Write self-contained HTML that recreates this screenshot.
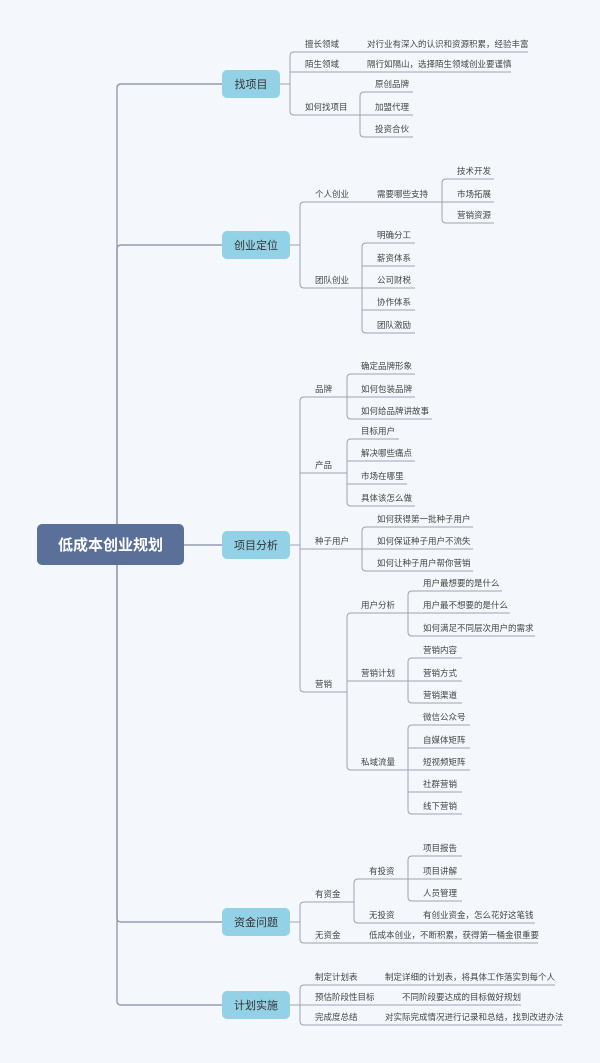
<!DOCTYPE html>
<html><head><meta charset="utf-8"><style>
html,body{margin:0;padding:0;background:#f4f8fc;}
svg{display:block;}
text{font-family:"Liberation Sans","Noto Sans CJK SC",sans-serif;fill:#444;font-size:8.5px;}
.m{font-size:11px;fill:#333;text-anchor:middle;}
.r{font-size:15px;font-weight:bold;fill:#fff;text-anchor:middle;}
path{fill:none;stroke:#9ba2b4;stroke-width:1;}
.t{stroke:#949bb0;stroke-width:1.4;}
</style></head><body>
<svg width="600" height="1063" viewBox="0 0 600 1063" xmlns="http://www.w3.org/2000/svg">
<rect width="600" height="1063" fill="#f4f8fc"/>
<!-- trunk -->
<path class="t" d="M117,544 L117,88 Q117,84 121,84 L222,84"/>
<path class="t" d="M117,544 L117,249 Q117,245 121,245 L222,245"/>
<path class="t" d="M184,545 L222,545"/>
<path class="t" d="M117,544 L117,918 Q117,922 121,922 L222,922"/>
<path class="t" d="M117,544 L117,1001 Q117,1005 121,1005 L222,1005"/>

<!-- 找项目 -->
<path d="M280,84 L290,84"/>
<path d="M290,84 L290,56 Q290,52 294,52 L528,52"/>
<path d="M290,72 L511,72"/>
<path d="M290,84 L290,111 Q290,115 294,115 L360,115"/>
<path d="M360,115 L360,96 Q360,92 364,92 L413,92"/>
<path d="M360,115 L413,115"/>
<path d="M360,115 L360,133 Q360,137 364,137 L413,137"/>
<!-- 创业定位 -->
<path d="M290,245 L300,245"/>
<path d="M300,245 L300,206 Q300,202 304,202 L442,202"/>
<path d="M300,245 L300,284 Q300,288 304,288 L362,288"/>
<path d="M442,202 L442,183 Q442,179 446,179 L494,179"/>
<path d="M442,202 L494,202"/>
<path d="M442,202 L442,219 Q442,223 446,223 L494,223"/>
<path d="M362,288 L362,247 Q362,243 366,243 L415,243"/>
<path d="M362,266 L415,266 M362,288 L415,288 M362,310 L415,310"/>
<path d="M362,288 L362,329 Q362,333 366,333 L415,333"/>
<!-- 项目分析 -->
<path d="M290,545 L300,545"/>
<path d="M300,545 L300,401 Q300,397 304,397 L347,397"/>
<path d="M300,473 L347,473 M300,549 L362,549"/>
<path d="M300,545 L300,688 Q300,692 304,692 L347,692"/>
<path d="M347,397 L347,378 Q347,374 351,374 L415,374"/>
<path d="M347,397 L415,397"/>
<path d="M347,397 L347,415 Q347,419 351,419 L432,419"/>
<path d="M347,473 L347,443 Q347,439 351,439 L399,439"/>
<path d="M347,461 L415,461 M347,484 L407,484"/>
<path d="M347,473 L347,502 Q347,506 351,506 L415,506"/>
<path d="M362,549 L362,531 Q362,527 366,527 L473,527"/>
<path d="M362,549 L473,549"/>
<path d="M362,549 L362,567 Q362,571 366,571 L473,571"/>
<path d="M347,692 L347,617 Q347,613 351,613 L408,613"/>
<path d="M347,681 L408,681"/>
<path d="M347,692 L347,766 Q347,770 351,770 L408,770"/>
<path d="M408,613 L408,595 Q408,591 412,591 L502,591"/>
<path d="M408,613 L510,613"/>
<path d="M408,613 L408,632 Q408,636 412,636 L535,636"/>
<path d="M408,681 L408,662 Q408,658 412,658 L462,658"/>
<path d="M408,681 L462,681"/>
<path d="M408,681 L408,699 Q408,703 412,703 L462,703"/>
<path d="M408,770 L408,729 Q408,725 412,725 L470,725"/>
<path d="M408,748 L470,748 M408,770 L470,770 M408,792 L462,792"/>
<path d="M408,770 L408,810 Q408,814 412,814 L462,814"/>
<!-- 资金问题 -->
<path d="M290,922 L300,922"/>
<path d="M300,922 L300,906 Q300,902 304,902 L354,902"/>
<path d="M300,922 L300,939 Q300,943 304,943 L538,943"/>
<path d="M354,902 L354,883 Q354,879 358,879 L408,879"/>
<path d="M354,902 L354,919 Q354,923 358,923 L535,923"/>
<path d="M408,879 L408,860 Q408,856 412,856 L462,856"/>
<path d="M408,879 L462,879"/>
<path d="M408,879 L408,897 Q408,901 412,901 L462,901"/>
<!-- 计划实施 -->
<path d="M290,1005 L300,1005"/>
<path d="M300,1005 L300,989 Q300,985 304,985 L555,985"/>
<path d="M300,1005 L521,1005"/>
<path d="M300,1005 L300,1021 Q300,1025 304,1025 L562,1025"/>

<!-- nodes -->
<rect x="37" y="524" width="147" height="41" rx="5" fill="#5a7099"/>
<text class="r" x="110.5" y="550">低成本创业规划</text>
<rect x="222" y="70" width="58" height="28" rx="5" fill="#93d1e6"/>
<text class="m" x="251" y="88">找项目</text>
<rect x="222" y="231" width="68" height="28" rx="5" fill="#93d1e6"/>
<text class="m" x="256" y="249">创业定位</text>
<rect x="222" y="531" width="68" height="28" rx="5" fill="#93d1e6"/>
<text class="m" x="256" y="549">项目分析</text>
<rect x="222" y="908" width="68" height="28" rx="5" fill="#93d1e6"/>
<text class="m" x="256" y="926">资金问题</text>
<rect x="222" y="991" width="68" height="28" rx="5" fill="#93d1e6"/>
<text class="m" x="256" y="1009">计划实施</text>

<!-- labels -->
<text x="305" y="47">擅长领域</text><text x="367" y="47">对行业有深入的认识和资源积累，经验丰富</text>
<text x="305" y="67">陌生领域</text><text x="367" y="67">隔行如隔山，选择陌生领域创业要谨慎</text>
<text x="305" y="110">如何找项目</text>
<text x="375" y="87">原创品牌</text><text x="375" y="110">加盟代理</text><text x="375" y="132">投资合伙</text>

<text x="315" y="197">个人创业</text><text x="377" y="197">需要哪些支持</text>
<text x="457" y="174">技术开发</text><text x="457" y="197">市场拓展</text><text x="457" y="218">营销资源</text>
<text x="315" y="283">团队创业</text>
<text x="377" y="238">明确分工</text><text x="377" y="261">薪资体系</text><text x="377" y="283">公司财税</text><text x="377" y="305">协作体系</text><text x="377" y="328">团队激励</text>

<text x="315" y="392">品牌</text>
<text x="361" y="369">确定品牌形象</text><text x="361" y="392">如何包装品牌</text><text x="361" y="414">如何给品牌讲故事</text>
<text x="315" y="468">产品</text>
<text x="361" y="434">目标用户</text><text x="361" y="456">解决哪些痛点</text><text x="361" y="479">市场在哪里</text><text x="361" y="501">具体该怎么做</text>
<text x="315" y="544">种子用户</text>
<text x="377" y="522">如何获得第一批种子用户</text><text x="377" y="544">如何保证种子用户不流失</text><text x="377" y="566">如何让种子用户帮你营销</text>
<text x="315" y="687">营销</text>
<text x="361" y="608">用户分析</text>
<text x="423" y="586">用户最想要的是什么</text><text x="423" y="608">用户最不想要的是什么</text><text x="423" y="631">如何满足不同层次用户的需求</text>
<text x="361" y="676">营销计划</text>
<text x="423" y="653">营销内容</text><text x="423" y="676">营销方式</text><text x="423" y="698">营销渠道</text>
<text x="361" y="765">私域流量</text>
<text x="423" y="720">微信公众号</text><text x="423" y="743">自媒体矩阵</text><text x="423" y="765">短视频矩阵</text><text x="423" y="787">社群营销</text><text x="423" y="809">线下营销</text>

<text x="315" y="897">有资金</text>
<text x="369" y="874">有投资</text>
<text x="423" y="851">项目报告</text><text x="423" y="874">项目讲解</text><text x="423" y="896">人员管理</text>
<text x="369" y="918">无投资</text><text x="423" y="918">有创业资金，怎么花好这笔钱</text>
<text x="315" y="938">无资金</text><text x="369" y="938">低成本创业，不断积累，获得第一桶金很重要</text>

<text x="315" y="980">制定计划表</text><text x="385" y="980">制定详细的计划表，将具体工作落实到每个人</text>
<text x="315" y="1000">预估阶段性目标</text><text x="402" y="1000">不同阶段要达成的目标做好规划</text>
<text x="315" y="1020">完成度总结</text><text x="385" y="1020">对实际完成情况进行记录和总结，找到改进办法</text>
</svg>
</body></html>
